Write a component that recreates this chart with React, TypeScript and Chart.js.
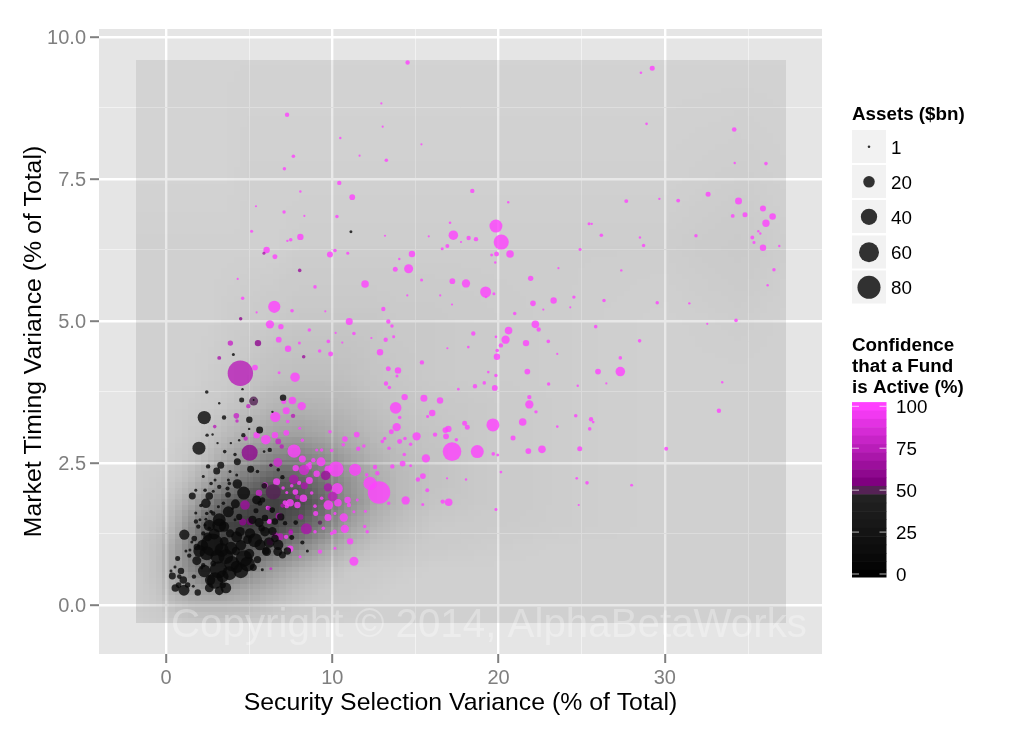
import React, { useEffect, useRef } from "react";
import { Chart, registerables } from "chart.js";

Chart.register(...registerables);

// [selection variance %, timing variance %, assets $bn]
const lowConfidenceFunds = [
  [4.05,4.41,.6],[2.45,3.75,1],[5.27,3.61,.1],[4.55,3.61,2.4],[7.04,3.65,4.4],[2.3,3.3,24],[3.49,3.3,1.7],[5.01,3.26,4.4],[5.63,3.08,5.4],[2.47,2.99,.9],[4.65,2.99,1.7],[1.98,2.76,21.6],[6.24,2.73,1.7],[3.53,2.7,1],[4.15,2.65,.9],[4.29,2.52,5.4],[3.29,2.46,5.4],[2.53,2.44,1.7],[5.09,2.39,5.4],[11.12,6.57,.6],
  [3.05,2.36,5.4],[1.58,1.92,5.4],[2.6,1.92,6.5],[2.4,1.79,11],[1.79,2.02,.6],[3.2,2.08,1.7],[3.81,2.14,1],[4.29,2.13,11],[4.67,1.97,21.6],[3.73,1.94,3.2],[3.75,1.64,15],[4.17,1.78,9.6],[5.45,1.85,9.6],[3.2,1.5,21.6],[2.84,1.61,1.7],[3.49,1.38,13],[2.45,1.61,1],[1.94,1.38,1.7],[1.8,1.47,1.7],[1.1,1.24,13],[1.7,1.17,3.2],[2.24,1.26,1.7],[2.78,1.06,72],[2.45,.91,27],[3.35,.97,27],[1.85,1.02,4.4],[1.85,.78,9.6],[3.85,1.26,8],[4.25,1.2,15],[4.45,1.29,11],[5.35,1.14,27],[5.05,1.26,13],[6.01,.95,6.5],[4.69,.82,38],[3.95,.73,32],[3.15,.62,41],[2.95,.43,38],[3.81,.56,27],[4.25,.67,19],[2.65,.44,13],[3.41,.35,4.4],[2.84,.73,3.2],[2.24,.7,1.7],[1.68,.5,1.7],[1.64,.33,.6],[.7,.82,2.4],[1.4,.87,1.7],[.54,.67,.6],[.9,.6,4.4],[.38,.51,5.4],[1.04,.44,6.5],[.56,.3,6.5],[1.08,.26,15],[.76,.35,3.2],[1.91,.22,4.4],[5.25,.66,5.4],[5.79,.62,.6],[6.72,.94,9.6],[5.65,1.06,15],[6.55,1.17,6.5],[5.41,1.66,2.4],[5.95,1.53,4.4],
  [2.4,1.51,.6],[2.04,1.5,.6],[2.71,1.64,1],[3.15,1.73,.6],[2.95,2.2,.6],[1.79,1.62,.6],[2.35,2.02,1],[2.84,2,.6],[4.01,1.7,.6],[3.45,1.79,1],[4.15,1.5,.6],[2.35,1.41,.6],[1.55,1.11,.6],[1.44,.97,.6],[2.15,.65,.6],[3.75,2.2,.6],[4.25,2.29,.6],[3.85,2.35,.6],[2.71,2.14,1],[2.24,2.26,.6],
  [5.95,1.29,11],[5.75,1.35,4.4],[6.05,.94,9.6],[6.75,1.06,13],[7,.88,5.4],[7.56,1.19,2.4],[6.55,1.47,4.4],[7.16,1.44,1.7],[5.65,1.79,2.4],[6.39,1.67,3.2],[6.75,2.38,1],[7,2.25,1.7],[5.91,2.1,3.2],[6.31,2.46,1],
  [2.9,1.25,15],[2.5,1.2,9],[3.1,.85,27],[2.2,1.05,15],[3.5,1.12,9],[4.5,.6,30],[4.9,.72,30],[5,.9,13],[4.2,.95,8],[3.4,.5,18],[2.6,.3,9],[3.2,.25,9],[5.5,.8,6],[6.4,1.3,8],[6.9,1.55,6],[7.3,.95,6],[5.2,1.5,8],[4.9,1.15,9],[4.4,1.55,4],[5.8,1.85,3],[1.3,.35,3],[.8,.5,2],[3.7,2.05,1.5],[5.5,2.35,1],[2.1,1.75,1],[2.6,1.35,1],[1.2,.95,.6],[.3,.6,.6],[7.8,1.45,2],[8.2,1.1,1.5],[8.5,.95,.6],[4.6,3.8,.3],[3.2,3.55,.3],[2.8,3,.3],[3.1,2.85,.3],[4.4,2.9,.3],[3.9,2.85,.3],[5.9,2.7,.4],[6.4,3.4,.3],[5,3.1,.3],
  [2.3,.6,20],[2,.95,18],[3.6,.3,14],[3.9,1,22],[3.2,1.4,26],[2.6,1.4,16],[4.5,1.05,14],[5.6,1.45,10],[6.2,1.1,14],[3.6,.85,30]
];

// [selection variance %, timing variance %, assets $bn, confidence %]
const middleConfidenceFunds = [
  [5.27,3.59,9.6,48],[6.45,1.99,32,52],[9.26,1.45,1.7,52],[5.05,1.47,5.4,55],[4.61,1.46,5.4,62],[5.03,2.68,36,62],[5.53,4.61,4.4,60],[4.49,5.04,.9,62],[8.04,5.89,1,65],[8.28,4.37,1,65],[5.89,6.19,.6,70],[3.2,4.35,1.3,70],[4.75,1.76,11,65],[9.6,2.28,11,65],[8.44,1.34,15,68],[7.68,2.21,11,70],[8.32,2.1,5.4,70],[9.74,2.07,8,70],[6.8,1.56,5.4,70],[6.55,1.23,3.8,70],[6.25,1.11,4.4,70],[6.86,1.2,5.4,75],
  [4.47,4.08,92,75],[10.02,1.91,11,75],[3.87,4.61,2.9,80],[4.23,3.33,3.2,80],[4.27,3.24,.9,80],[4.95,3.5,1.7,80],[2.93,3.14,1,75],[7.64,3.33,1.7,75],[4.79,2.93,1.7,80],[6.75,2.88,3.4,80],[6.96,2.79,1.7,75],[6.72,2.51,9.6,85],[8.3,2.38,13,85],[5.95,2.11,3.2,85],[5.59,1.97,4.4,80],[6.3,.64,.6,80],
  [7.5,1.3,1.5,70],[8.1,1.55,3,70],[7,1.75,1.5,70],[7.9,1.9,2,75],[6.2,1.7,1.5,70],[7.5,1.27,2,75]
];

// [selection variance %, timing variance %, assets $bn]
const highConfidenceFunds = [
  [29.24,9.45,2.4],[28.56,9.37,.4],[28.9,8.47,.4],[34.17,8.37,2],[34.2,7.78,.3],[36.08,7.77,1],[32.6,7.23,2.4],[27.68,7.11,1.3],[29.67,7.15,.3],[30.8,7.12,1.2],[34.43,7.11,5.4],[35.9,6.98,3.8],[36.48,6.84,4.7],[36.08,6.72,6],[34.82,6.87,2.4],[34.08,6.85,1.2],[25.44,6.71,.6],[25.6,6.71,.3],[26.18,6.51,1],[28.5,6.47,.3],[28.72,6.33,.9],[31.87,6.5,.9],[35.26,6.47,1.2],[35.62,6.58,.3],[35.74,6.54,.3],[35.36,6.38,.6],[35.9,6.29,4.4],[36.88,6.32,.3],[24.9,6.26,.6],[27.38,5.89,.3],[36.56,5.9,.9],[36.18,5.63,.3],
  [18.42,7.29,1.7],[20.58,7.09,.3],[19.84,6.67,21.6],[20.16,6.39,32],[17.28,6.51,11],[20.69,6.18,6.5],[19.88,6.18,2.4],[19.58,6.16,.6],[18.2,6.46,1.7],[18.64,6.44,1.7],[16.92,6.32,1.3],[16.61,6.27,.6],[14.79,6.18,4.4],[17.08,6.73,.4],[15.8,6.49,.2],[13.17,6.5,.2],[17.74,6.39,.2],[14.59,5.92,9.6],[13.79,5.91,2.4],[14.03,6.09,.3],[15.37,5.72,.6],[17.22,5.7,3.4],[18.04,5.66,8],[19.22,5.51,15],[19.72,5.48,.6],[19.24,5.42,.3],[19.8,6.03,.3],[21.93,5.75,2.9],[23.6,5.93,.2],[22.07,5.31,3.2],[23.31,5.36,4.4],[24.53,5.42,.9],[26.34,5.36,.9],[29.54,5.32,.9],[31.47,5.31,.3],[22.69,5.2,.2],[24.31,5.24,.2],[20.97,5.13,.9],[16.49,5.45,.2],[14.51,5.45,.2],[17.2,5.29,.2],[13.07,5.21,1.7],[13.37,4.99,1.7],[13.59,4.91,.9],[22.21,4.94,6.5],[22.41,4.85,1.7],[20.6,4.83,6.5],[20.42,4.67,8],[20.14,4.57,1.7],[21.65,4.61,4.4],[22.99,4.64,1],[19.92,4.48,1],[19.9,4.37,4.4],[25.84,4.9,1],[34.28,5.01,1],[32.55,4.95,.2],[28.48,4.65,1],[18.48,4.78,1.7],[19.84,4.72,.4],[18.18,4.54,.4],[16.92,4.52,.2],[13.21,4.67,1.7],[13.69,4.72,.6],[12.87,4.45,4.4],[15.39,4.27,1.7],[27.32,4.35,1],[27.32,4.11,11],[25.98,4.11,3.4],[21.73,4.11,3.4],[23.53,4.42,.2],[19.38,4.1,.4],[19.84,4.04,.9],[13.37,4.16,2.4],[13.95,4.13,4.4],[13.89,4.03,.6],[13.23,3.9,1.7],[13.43,3.83,1],[18.58,3.85,1.7],[19.14,3.91,1],[19.77,3.82,3.4],[17.58,3.8,.4],[23.01,3.89,.9],[26.48,3.9,.2],[33.45,3.92,.3],[24.76,3.86,.3],[14.35,3.66,4.4],[15.51,3.64,5.4],[16.48,3.6,4.4],[21.85,3.66,1.7],[21.85,3.53,8],[13.81,3.47,17],[16.01,3.38,4.4],[15.73,3.32,.6],[14.05,3.3,1],[22.25,3.4,.9],[24.64,3.33,1],[25.56,3.27,1.7],[25.69,3.22,.4],[33.25,3.42,1.7],[19.66,3.17,21.6],[21.45,3.22,6.5],[17.96,3.2,2.4],[18.12,3.13,2.4],[16.98,3.1,4.4],[16.8,3.08,3.4],[13.87,3.13,8],[13.55,3.05,2.4],[16.84,2.97,3.4],[16.18,3,1.7],[15.07,2.97,8],[25.48,3.1,1],[23.53,3.14,.4],[20.87,2.94,2.4],[17.46,2.91,1],[14.05,2.88,2.4],[14.37,2.93,1],[13.15,2.93,.9],[13.01,2.88,1],[14.71,2.83,.9],[13.41,2.76,1],[17.2,2.7,49],[18.72,2.7,21.6],[21.79,2.71,3.4],[22.61,2.74,6.5],[24.88,2.75,2.4],[30.08,2.75,1.3],[19.68,2.66,1],[19.95,2.64,.6],[14.33,2.65,1],[15.63,2.58,8],[14.23,2.49,3.4],[13.61,2.44,1.7],[14.71,2.45,.6],[20.14,2.34,.4],[15.45,2.27,3.4],[15.15,2.21,1.7],[24.7,2.23,.4],[25.32,2.15,1],[28,2.11,.6],[18.04,2.21,.3],[16.9,2.23,.2],[15.71,2.02,1.3],[12.81,1.98,72],[14.41,1.84,8],[16.64,1.82,1.7],[17,1.81,6.5],[13.39,1.79,.9],[15.44,1.77,.6],[24.82,1.76,.2],[19.84,1.68,.6],
  [7.28,8.63,1.7],[12.95,8.83,.2],[13.03,8.42,.2],[10.48,8.22,.3],[15.36,8.11,.2],[7.66,7.9,1],[13.25,7.83,1],[7.12,7.68,.9],[11.64,7.91,.2],[10.42,7.43,1.7],[11.2,7.18,3.4],[8.08,7.28,.3],[5.41,7.02,.2],[7.1,6.92,.9],[8.32,6.85,.2],[10.28,6.84,.9],[5.15,6.58,.6],[8.08,6.48,4.4],[7.5,6.43,1],[7.3,6.41,.3],[6.05,6.25,4.4],[6.55,6.13,2.4],[9.86,6.17,3.8],[10.16,6.24,1],[10.93,6.19,.6],[8.96,5.6,1],[11.97,5.65,6.5],[4.31,5.74,.2],[4.61,5.4,.9],[6.51,5.25,19],[7.58,5.18,1],[5.45,5.15,.2],[9.58,5.17,.2],[6.25,4.94,8],[6.91,4.9,2.9],[11.02,4.99,5.4],[8.62,4.84,1],[11.3,4.78,1],[6.78,4.67,3.4],[9.76,4.64,1],[8.02,4.61,.6],[7.34,4.51,4.4],[9.24,4.47,1],[9.9,4.42,2.4],[10.2,4.79,.2],[10.6,4.62,.2],[12.35,4.7,.2],[14.53,9.55,1.7],
  [5.35,4.18,3.4],[7.76,4.01,11],[6.8,4.09,.6],[7.6,3.6,6.5],[7.08,3.58,2.4],[6.57,3.31,13],[7.23,3.42,5.4],[8.16,3.5,8],[7.32,3.23,1],[5.45,2.99,4.4],[6,2.91,11],[6.55,2.99,4.4],[7.23,3.03,3.4],[8.04,3.11,.6],[8.2,2.9,.9],[7.7,2.71,24],[8.2,2.57,5.4],[7.8,2.41,4.4],[8.58,2.44,4.4],
  [9.32,2.52,9.6],[10.22,2.39,32],[9.76,2.39,6.5],[11.37,2.38,19],[9.06,2.31,4.4],[6.31,2.46,1],[8.62,2.19,5.4],[6.65,2.17,5.4],[10.3,2.05,15],[12.27,2.14,24],[8,2.15,1.7],[7.78,1.99,3.2],[7.04,2.06,1],[7.26,1.98,.6],[10.92,1.85,4.4],[10.34,1.8,6.5],[9.76,1.76,11],[8.26,1.88,6.5],[7.46,1.8,6.5],[7.9,1.76,4.4],[9,1.61,2.4],[9.74,1.54,5.4],[10.69,1.54,8],[10.75,1.34,8],[10.14,1.29,1.7],[7.26,1.74,1.7],[6.12,1.71,1.7],[7.47,.99,4.4],[11.07,1.12,4.4],[11.95,1.38,.9],[12.1,1.29,.9],[11.99,1.65,.6],[11.3,.77,9.6],[12.57,2.43,1.7],[12.71,2.32,1.7],[12.07,2.29,1],
  [9.86,3.05,1],[11.47,3,3.4],[10.76,2.92,3.2],[11.56,2.75,1.7],[9.36,2.73,.9],[9.96,2.72,1],[10.66,2.82,1],[11.9,2.8,1],[8.86,2.55,1.7],[8.66,2.49,1],[9.06,2.73,.6],[11,1.76,1.7],[11.5,1.85,.6],[11.3,1.64,.6],[10.16,1.61,.6],[8.96,1.74,1],[8.76,1.97,1],[9.36,1.88,1],[7.56,2.1,1],[7.16,1.8,2.4],[9.46,1.35,1],[9.96,1.26,1],[8.96,1.29,1],[10.16,1,.6],[9.26,.94,1.7],[8.06,.85,.6],[7.22,1.2,1.7],[6.21,1.47,2.4]
];

const xTickValues = [0, 10, 20, 30];
const xMinorValues = [5, 15, 25, 35];
const yTickValues = [0, 2.5, 5, 7.5, 10];
const yMinorValues = [1.25, 3.75, 6.25, 8.75];

const assetLegendValues = [1, 20, 40, 60, 80];
const confidenceTicks = [100, 75, 50, 25, 0];
// one colour per 5% band of confidence, from 100 down to 0
const confidenceBands = ["#ff40ff","#f139f1","#e332e3","#d52bd5","#c724c7","#b91db9","#aa16aa","#9c0f9c","#8e088e","#800080","#552255","#222222","#1e1e1e","#1b1b1b","#181818","#141414","#101010","#0d0d0d","#090909","#050505","#000000"];

// Density shading of the funds: opacity (%) read at these variance positions
const densityX = [-1.8,-.5,.5,1.5,2.5,3.5,5,6.5,8,9.5,11,12.5,14,16,19,24,30,34.5,37.3];
const densityY = [-.32,0,.3,.6,1,1.4,1.8,2.2,2.6,3,3.5,4,5,6.3,7.5,9.6];
const densityOpacity = [
  [9,10,11,12,13,13,12,11,10,10,9,9,9,9,9,9,9,9,9],
  [10,12,17,20,20,20,19,15,12,10,10,9,9,9,9,9,9,9,9],
  [10,14,25,30,34,33,28,22,16,12,11,10,9,9,9,9,9,9,9],
  [10,15,28,40,50,50,40,30,22,16,12,11,10,9,9,9,9,9,9],
  [10,15,27,45,62,68,62,52,40,28,20,15,13,11,10,9,9,9,9],
  [10,13,21,38,58,70,74,70,60,45,30,21,16,12,11,10,9,9,9],
  [9,11,16,27,42,58,68,72,68,54,38,26,19,14,12,10,9,9,9],
  [9,10,12,18,27,38,50,60,58,48,35,25,19,15,12,10,9,9,9],
  [9,9,10,13,18,25,35,42,44,38,29,22,18,15,12,10,9,9,9],
  [9,9,9,11,14,18,24,29,30,27,23,19,16,14,12,10,9,9,9],
  [9,9,9,10,11,13,17,21,22,21,19,16,14,13,12,10,9,9,9],
  [9,9,9,9,10,11,14,16,17,17,16,14,13,12,11,10,9,9,9],
  [9,9,9,9,9,10,11,12,13,13,13,13,12,12,11,10,9,10,9],
  [9,9,9,9,9,9,9,9,10,10,10,10,10,10,10,10,10,12,10],
  [8,8,8,8,8,8,9,9,9,9,9,9,9,9,9,9,9,10,9],
  [8,8,8,8,8,8,8,8,8,8,8,8,8,8,8,8,8,8,8]
];

const FONT = '"Liberation Sans", Arial, sans-serif';
const radiusFor = (assets: number) => 1.29 * Math.sqrt(assets);
const markRadius = (assets: number) => {
  const r = radiusFor(assets);
  return r < 6 ? r + 0.5 : r + 0.3;
};

function bandColour(conf: number, alpha: number) {
  const hex = confidenceBands[Math.min(20, Math.max(0, Math.round((100 - conf) / 5)))];
  const n = parseInt(hex.slice(1), 16);
  return `rgba(${n >> 16},${(n >> 8) & 255},${n & 255},${alpha})`;
}

function locate(list: number[], v: number) {
  let i = 0;
  while (i < list.length - 2 && v > list[i + 1]) i++;
  return [i, Math.min(1, Math.max(0, (v - list[i]) / (list[i + 1] - list[i])))];
}

function opacityAt(x: number, y: number) {
  const [i, u] = locate(densityX, x);
  const [j, v] = locate(densityY, y);
  const a = densityOpacity[j][i] * (1 - u) + densityOpacity[j][i + 1] * u;
  const b = densityOpacity[j + 1][i] * (1 - u) + densityOpacity[j + 1][i + 1] * u;
  return (a * (1 - v) + b * v) / 100;
}

const panelPlugin = {
  id: "panel",
  beforeDraw(chart: any) {
    const { ctx, chartArea: a } = chart;
    ctx.save();
    ctx.fillStyle = "#ffffff";
    ctx.fillRect(0, 0, chart.width, chart.height);
    ctx.fillStyle = "#e5e5e5";
    ctx.fillRect(a.left, a.top, a.right - a.left, a.bottom - a.top);
    ctx.restore();
  },
  beforeDatasetsDraw(chart: any) {
    const { ctx, scales } = chart;
    const cells = 100;
    const x0 = densityX[0], x1 = densityX[densityX.length - 1];
    const y0 = densityY[0], y1 = densityY[densityY.length - 1];
    ctx.save();
    for (let i = 0; i < cells; i++) {
      const xa = x0 + ((x1 - x0) * i) / cells;
      const xb = x0 + ((x1 - x0) * (i + 1)) / cells;
      const pa = Math.round(scales.x.getPixelForValue(xa));
      const pb = Math.round(scales.x.getPixelForValue(xb));
      for (let j = 0; j < cells; j++) {
        const ya = y0 + ((y1 - y0) * j) / cells;
        const yb = y0 + ((y1 - y0) * (j + 1)) / cells;
        const qa = Math.round(scales.y.getPixelForValue(ya));
        const qb = Math.round(scales.y.getPixelForValue(yb));
        ctx.fillStyle = `rgba(0,0,0,${opacityAt((xa + xb) / 2, (ya + yb) / 2).toFixed(3)})`;
        ctx.fillRect(pa, qb, pb - pa, qa - qb);
      }
    }
    ctx.restore();
  },
  afterDatasetsDraw(chart: any) {
    const { ctx } = chart;
    ctx.save();
    ctx.font = `40.3px ${FONT}`;
    ctx.fillStyle = "rgba(255,255,255,0.3)";
    ctx.textAlign = "left";
    ctx.textBaseline = "alphabetic";
    ctx.fillText("Copyright © 2014, AlphaBetaWorks", 171, 637);
    ctx.restore();
  },
  afterDraw(chart: any) {
    const { ctx } = chart;
    ctx.save();
    ctx.textAlign = "left";
    ctx.textBaseline = "alphabetic";
    ctx.fillStyle = "#000";
    ctx.font = `bold 18.8px ${FONT}`;
    ctx.fillText("Assets ($bn)", 852, 120);
    const keyTop = [130, 165, 200, 235.5, 270.5];
    assetLegendValues.forEach((v, i) => {
      ctx.fillStyle = "#f2f2f2";
      ctx.fillRect(852, keyTop[i], 34, 33);
      ctx.fillStyle = "rgba(0,0,0,0.8)";
      ctx.beginPath();
      ctx.arc(869, keyTop[i] + 16.8, radiusFor(v), 0, Math.PI * 2);
      ctx.fill();
      ctx.fillStyle = "#000";
      ctx.font = `18.8px ${FONT}`;
      ctx.textBaseline = "middle";
      ctx.fillText(String(v), 891, keyTop[i] + 18.5);
      ctx.textBaseline = "alphabetic";
    });
    ctx.font = `bold 18.8px ${FONT}`;
    ctx.fillStyle = "#000";
    ["Confidence", "that a Fund", "is Active (%)"].forEach((t, i) => ctx.fillText(t, 852, 351 + i * 21));
    const barTop = 401.7, barBottom = 577, pxPerBand = 8.385, topCentre = 406.3;
    confidenceBands.forEach((c, i) => {
      const a = Math.max(barTop, topCentre + (i - 0.5) * pxPerBand);
      const b = Math.min(barBottom, topCentre + (i + 0.5) * pxPerBand);
      ctx.fillStyle = c;
      ctx.fillRect(852, a, 34.5, b - a + 0.5);
    });
    confidenceTicks.forEach((v) => {
      const y = topCentre + ((100 - v) / 5) * pxPerBand;
      ctx.fillStyle = "rgba(255,255,255,0.7)";
      ctx.fillRect(852, y - 0.5, 7, 1);
      ctx.fillRect(879.5, y - 0.5, 7, 1);
      ctx.fillStyle = "#000";
      ctx.font = `18.8px ${FONT}`;
      ctx.textBaseline = "middle";
      ctx.fillText(String(v), 896, y + 1.5);
    });
    ctx.restore();
  }
};

function isOneOf(list: number[], v: number) {
  return list.some((t) => Math.abs(t - v) < 1e-6);
}

function makeAxis(majors: number[], minors: number[], format: (v: number) => string, title: string, min: number, max: number, titlePadding: any, fixed: (s: any) => void, tickPadding: number, labelOffset: number) {
  return {
    type: "linear",
    min,
    max,
    afterBuildTicks(scale: any) {
      scale.ticks = [...majors, ...minors].sort((a, b) => a - b).map((value) => ({ value }));
    },
    afterFit: fixed,
    border: { display: false },
    grid: {
      drawOnChartArea: true,
      drawTicks: true,
      tickLength: 9,
      color: (c: any) => (isOneOf(majors, c.tick.value) ? "#ffffff" : "#f2f2f2"),
      lineWidth: (c: any) => (isOneOf(majors, c.tick.value) ? 2.4 : 1),
      tickColor: (c: any) => (isOneOf(majors, c.tick.value) ? "#7f7f7f" : "rgba(0,0,0,0)"),
      tickWidth: (c: any) => (isOneOf(majors, c.tick.value) ? 2 : 0)
    },
    ticks: {
      autoSkip: false,
      maxRotation: 0,
      padding: tickPadding,
      labelOffset,
      color: "#7f7f7f",
      font: { family: FONT, size: 20 },
      callback: (v: number) => (isOneOf(majors, v) ? format(v) : "")
    },
    title: {
      display: true,
      text: title,
      color: "#000",
      font: { family: FONT, size: 24.8 },
      padding: titlePadding
    }
  };
}

export default function App() {
  const ref = useRef<HTMLCanvasElement>(null);
  useEffect(() => {
    const toPoint = (p: number[]) => ({ x: p[0], y: p[1], r: markRadius(p[2]), conf: p[3] });
    const dataset = (rows: number[][], conf: number) => ({
      data: rows.map(toPoint),
      borderWidth: 0,
      pointBorderWidth: 0,
      pointRadius: (c: any) => c.raw.r,
      pointBackgroundColor: (c: any) => bandColour(c.raw.conf ?? conf, 0.8)
    });
    const chart = new Chart(ref.current as HTMLCanvasElement, {
      type: "scatter",
      data: {
        datasets: [
          dataset(lowConfidenceFunds, 10),
          dataset(middleConfidenceFunds, 70),
          dataset(highConfidenceFunds, 100)
        ]
      } as any,
      options: {
        animation: false,
        responsive: false,
        devicePixelRatio: 1,
        layout: { padding: { left: 0, right: 202, top: 29, bottom: 0 } },
        plugins: { legend: { display: false }, tooltip: { enabled: false } },
        scales: {
          x: makeAxis(xTickValues, xMinorValues, (v) => String(v), "Security Selection Variance (% of Total)", -4.03, 39.45, { top: 0, bottom: 13 }, (s: any) => { s.height = 77; }, 3, 0),
          y: makeAxis(yTickValues, yMinorValues, (v) => v.toFixed(1), "Market Timing Variance (% of Total)", -0.863, 10.14, { top: 19, bottom: 0 }, (s: any) => { s.width = 99; }, 4, 1.5)
        }
      } as any,
      plugins: [panelPlugin]
    });
    return () => chart.destroy();
  }, []);
  return (
    <div style={{ position: "fixed", left: 0, top: 0, width: 1024, height: 731 }}>
      <canvas ref={ref} width={1024} height={731} style={{ display: "block" }} />
    </div>
  );
}
